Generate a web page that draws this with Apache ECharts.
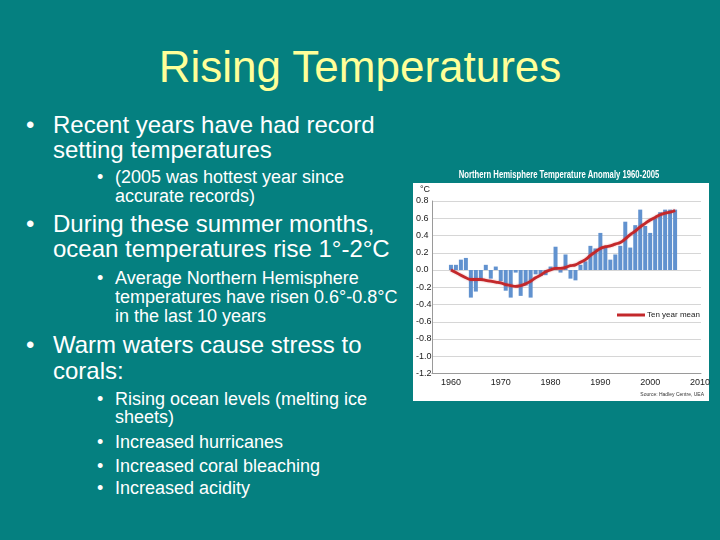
<!DOCTYPE html>
<html><head><meta charset="utf-8">
<script src="https://cdn.jsdelivr.net/npm/echarts@6/dist/echarts.min.js"></script>
<style>
html,body{margin:0;padding:0;width:720px;height:540px;overflow:hidden;background:#058080;}
.t{position:absolute;white-space:nowrap;font-family:'Liberation Sans',Arial,sans-serif;color:#fff;line-height:1;}
.l1{font-size:24px;}
.l3{font-size:18px;}
#title{position:absolute;left:0;width:720px;text-align:center;top:44.8px;font-size:44px;color:#ffff99;font-family:'Liberation Sans',Arial,sans-serif;line-height:1;white-space:nowrap;}
#panel{position:absolute;left:413px;top:183px;width:296px;height:218px;background:#fff;}
#chart{position:absolute;left:0;top:0;width:720px;height:540px;}
</style></head>
<body>
<div id="title">Rising Temperatures</div>

<div class="t l1" style="left:26px;top:112.7px">•</div>
<div class="t l1" style="left:53px;top:112.7px">Recent years have had record</div>
<div class="t l1" style="left:53px;top:138.2px">setting temperatures</div>
<div class="t l3" style="left:97px;top:168.1px">•</div>
<div class="t l3" style="left:115px;top:168.1px">(2005 was hottest year since</div>
<div class="t l3" style="left:115px;top:186.5px">accurate records)</div>

<div class="t l1" style="left:26px;top:212.4px">•</div>
<div class="t l1" style="left:53px;top:212.4px">During these summer months,</div>
<div class="t l1" style="left:53px;top:237.4px">ocean temperatures rise 1°-2°C</div>
<div class="t l3" style="left:97px;top:269.1px">•</div>
<div class="t l3" style="left:115px;top:269.1px">Average Northern Hemisphere</div>
<div class="t l3" style="left:115px;top:288.1px">temperatures have risen 0.6°-0.8°C</div>
<div class="t l3" style="left:115px;top:306.5px">in the last 10 years</div>

<div class="t l1" style="left:26px;top:333px">•</div>
<div class="t l1" style="left:53px;top:333px">Warm waters cause stress to</div>
<div class="t l1" style="left:53px;top:359px">corals:</div>
<div class="t l3" style="left:97px;top:389.8px">•</div>
<div class="t l3" style="left:115px;top:389.8px">Rising ocean levels (melting ice</div>
<div class="t l3" style="left:115px;top:408.1px">sheets)</div>
<div class="t l3" style="left:97px;top:432.5px">•</div>
<div class="t l3" style="left:115px;top:432.5px">Increased hurricanes</div>
<div class="t l3" style="left:97px;top:456.5px">•</div>
<div class="t l3" style="left:115px;top:456.5px">Increased coral bleaching</div>
<div class="t l3" style="left:97px;top:479.1px">•</div>
<div class="t l3" style="left:115px;top:479.1px">Increased acidity</div>

<div id="panel"></div>
<div id="chart"></div>
<script>
const years = [1960,1961,1962,1963,1964,1965,1966,1967,1968,1969,
  1970,1971,1972,1973,1974,1975,1976,1977,1978,1979,
  1980,1981,1982,1983,1984,1985,1986,1987,1988,1989,
  1990,1991,1992,1993,1994,1995,1996,1997,1998,1999,
  2000,2001,2002,2003,2004,2005];
const anomaly = [0.06,0.06,0.12,0.14,-0.32,-0.25,-0.12,0.06,-0.10,0.04,
  -0.13,-0.24,-0.32,-0.03,-0.30,-0.18,-0.32,-0.05,-0.07,-0.06,
  0.04,0.27,-0.03,0.18,-0.10,-0.12,0.06,0.10,0.28,0.25,
  0.43,0.27,0.12,0.18,0.28,0.56,0.26,0.52,0.70,0.51,
  0.43,0.60,0.67,0.70,0.70,0.70];
const tenYearMean = [0.00,-0.03,-0.06,-0.09,-0.11,-0.11,-0.11,-0.12,-0.13,-0.14,
  -0.15,-0.17,-0.18,-0.19,-0.18,-0.16,-0.13,-0.09,-0.06,-0.02,
  0.00,0.02,0.02,0.03,0.05,0.06,0.09,0.12,0.17,0.21,
  0.25,0.27,0.28,0.30,0.32,0.36,0.41,0.45,0.50,0.54,
  0.58,0.61,0.64,0.66,0.67,0.69];
const xTickLabels = [1960,1970,1980,1990,2000,2010];
const chartTitle = 'Northern Hemisphere Temperature Anomaly 1960-2005';
const unitLabel = '°C';
const sourceLabel = 'Source: Hadley Centre, UEA';
const legendLabel = 'Ten year mean';

const FONT = 'Liberation Sans, Arial, sans-serif';
const chart = echarts.init(document.getElementById('chart'), null, {renderer:'canvas'});
chart.setOption({
  animation:false,
  backgroundColor:'transparent',
  textStyle:{fontFamily:FONT},
  grid:{left:432, right:19, top:201, bottom:166.5, containLabel:false},
  xAxis:{type:'value', min:1956.2, max:2010.2,
    axisLine:{show:true, onZero:false, lineStyle:{color:'#9a9a9a', width:1}},
    axisTick:{show:false}, splitLine:{show:false},
    axisLabel:{customValues:xTickLabels, fontSize:9, color:'#222', margin:5,
      showMinLabel:true, showMaxLabel:true, formatter:v => String(Math.round(v))}},
  yAxis:{type:'value', min:-1.2, max:0.8, interval:0.2,
    axisLine:{show:true, onZero:false, lineStyle:{color:'#9a9a9a', width:1}},
    axisTick:{show:false},
    splitLine:{show:true, lineStyle:{color:'#d6d6d6', width:1}},
    axisLabel:{fontSize:9, color:'#222', align:'left', margin:16,
      formatter:v => (Math.abs(v) < 1e-9 ? 0 : v).toFixed(1)}},
  legend:{data:[{name:legendLabel, icon:'rect'}], left:617, top:311, padding:0,
    itemWidth:28, itemHeight:3, textStyle:{fontSize:8, color:'#222', padding:[0,0,0,-3]}},
  series:[
    {type:'bar', name:'Anomaly', data:years.map((y,i)=>[y,anomaly[i]]),
      barWidth:4, itemStyle:{color:'#6192cf'}, z:2},
    {type:'line', name:legendLabel, data:years.map((y,i)=>[y,tenYearMean[i]]),
      smooth:true, showSymbol:false, symbol:'none',
      lineStyle:{color:'#c3282b', width:2.8, shadowBlur:2, shadowColor:'rgba(200,40,40,0.45)'},
      itemStyle:{color:'#c3282b'}, z:3}
  ],
  graphic:[
    {type:'text', x:559, y:175, scaleX:0.77,
      style:{text:chartTitle, font:'bold 10px '+FONT, fill:'#fff', align:'center', verticalAlign:'middle'}},
    {type:'text', x:420, y:189.5,
      style:{text:unitLabel, font:'9px '+FONT, fill:'#222', align:'left', verticalAlign:'middle'}},
    {type:'text', x:704, y:394.5,
      style:{text:sourceLabel, font:'5px '+FONT, fill:'#333', align:'right', verticalAlign:'middle'}}
  ]
});
</script>
</body></html>
